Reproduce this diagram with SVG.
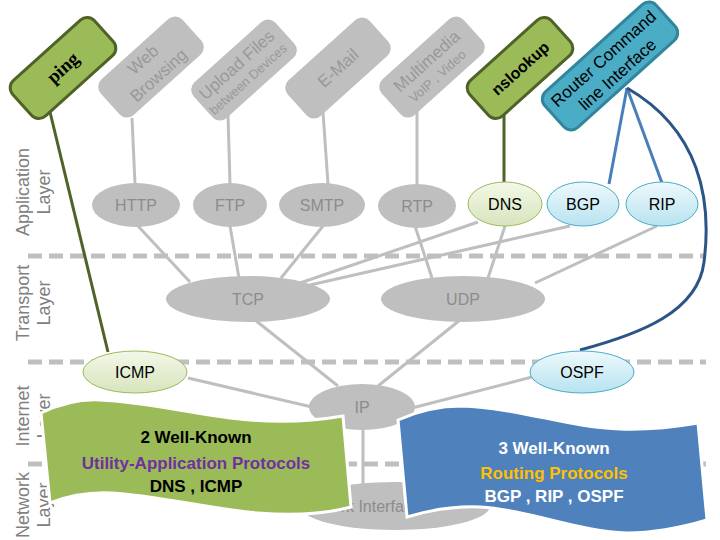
<svg xmlns="http://www.w3.org/2000/svg" width="720" height="540" viewBox="0 0 720 540">
<style>
.lbl{font-family:"Liberation Sans",Arial,sans-serif;font-size:18px;fill:#808080;text-anchor:middle}
.gbox{fill:#bfbfbf}
.grbox{fill:#9bbb59;stroke:#4f6228;stroke-width:3}
.blbox{fill:#4bacc6;stroke:#31859c;stroke-width:3}
.gt{font-family:"Liberation Sans",Arial,sans-serif;font-size:17px;fill:#999;text-anchor:middle}
.gs{font-family:"Liberation Sans",Arial,sans-serif;font-size:13px;fill:#999;text-anchor:middle}
.bt{font-family:"Liberation Sans",Arial,sans-serif;font-size:17px;fill:#000;text-anchor:middle}
.pe{fill:#bfbfbf}
.pt{font-family:"Liberation Sans",Arial,sans-serif;font-size:16px;fill:#8c8c8c;text-anchor:middle}
.kt{font-family:"Liberation Sans",Arial,sans-serif;font-size:16px;fill:#000;text-anchor:middle}
.dash{stroke:#bfbfbf;stroke-width:5;stroke-dasharray:14 7;fill:none}
.gl{stroke:#bfbfbf;stroke-width:3;fill:none}
.ol{stroke:#4f6228;stroke-width:3;fill:none}
.bl{stroke:#4a7ebb;stroke-width:3;fill:none}
.ban{font-family:"Liberation Sans",Arial,sans-serif;font-size:17px;font-weight:bold;text-anchor:middle}
</style>
<defs>
<linearGradient id="gGreen" x1="0" y1="0" x2="0" y2="1"><stop offset="0" stop-color="#f3f8e8"/><stop offset="1" stop-color="#d7e4bd"/></linearGradient>
<linearGradient id="gBlue" x1="0" y1="0" x2="0" y2="1"><stop offset="0" stop-color="#eef9fc"/><stop offset="1" stop-color="#b7e3f0"/></linearGradient>
</defs>
<rect width="720" height="540" fill="#fff"/>

<g id="layer-labels">
<text class="lbl" transform="translate(29,192) rotate(-90)">Application</text>
<text class="lbl" transform="translate(50,192) rotate(-90)">Layer</text>
<text class="lbl" transform="translate(29,303) rotate(-90)">Transport</text>
<text class="lbl" transform="translate(50,303) rotate(-90)">Layer</text>
<text class="lbl" transform="translate(29,416) rotate(-90)">Internet</text>
<text class="lbl" transform="translate(50,416) rotate(-90)">Layer</text>
<text class="lbl" transform="translate(29,505) rotate(-90)">Network</text>
<text class="lbl" transform="translate(50,505) rotate(-90)">Layer</text>
</g>

<g id="layer-lines">
<line class="dash" x1="28" y1="256" x2="706" y2="256"/>
<line class="dash" x1="28" y1="362" x2="706" y2="362"/>
<line class="dash" x1="28" y1="464" x2="706" y2="464"/>
</g>

<g id="connectors">
<line class="gl" x1="132" y1="118" x2="135" y2="184"/>
<line class="gl" x1="228" y1="115" x2="230" y2="184"/>
<line class="gl" x1="323" y1="112" x2="328" y2="184"/>
<line class="gl" x1="417" y1="110" x2="417" y2="185"/>
<line class="gl" x1="138" y1="226" x2="190" y2="282"/>
<line class="gl" x1="230" y1="226" x2="239" y2="278"/>
<line class="gl" x1="323" y1="226" x2="281" y2="278"/>
<line class="gl" x1="478" y1="222" x2="300" y2="283"/>
<line class="gl" x1="570" y1="226" x2="310" y2="285"/>
<line class="gl" x1="415" y1="226" x2="432" y2="278"/>
<line class="gl" x1="505" y1="226" x2="488" y2="278"/>
<line class="gl" x1="657" y1="226" x2="535" y2="283"/>
<line class="gl" x1="255" y1="320" x2="338" y2="386"/>
<line class="gl" x1="460" y1="320" x2="378" y2="386"/>
<line class="gl" x1="188" y1="378" x2="312" y2="407"/>
<line class="gl" x1="532" y1="377" x2="412" y2="408"/>
<line class="gl" x1="363" y1="428" x2="363" y2="484"/>
<line class="ol" x1="50" y1="112" x2="108" y2="352"/>
<line class="ol" x1="504" y1="112" x2="504" y2="183"/>
<line class="bl" x1="627" y1="88" x2="609" y2="184"/>
<line class="bl" x1="627" y1="88" x2="662" y2="183"/>
<path d="M627,88 C700,130 712,200 704,262 C698,312 640,334 580,350" fill="none" stroke="#2c5587" stroke-width="3"/>
</g>

<g id="ping" transform="translate(63,68) rotate(-42)">
<rect class="grbox" x="-55" y="-24" width="110" height="48" rx="10"/>
<text x="0" y="6" font-family="'Liberation Serif',serif" font-size="19" font-weight="bold" text-anchor="middle" fill="#000">ping</text>
</g>
<g id="web" transform="translate(151,67) rotate(-42)">
<rect class="gbox" x="-55" y="-24" width="110" height="48" rx="10"/>
<text class="gt" x="-1" y="-5">Web</text>
<text class="gt" x="0" y="17">Browsing</text>
</g>
<g id="upload" transform="translate(244,70) rotate(-42)">
<rect class="gbox" x="-55" y="-24" width="110" height="48" rx="10"/>
<text class="gt" x="-2" y="-3">Upload Files</text>
<text class="gs" x="-3" y="14">between Devices</text>
</g>
<g id="email" transform="translate(338,68) rotate(-42)">
<rect class="gbox" x="-55" y="-24" width="110" height="48" rx="10"/>
<text class="gt" x="0" y="6">E-Mail</text>
</g>
<g id="multimedia" transform="translate(432,67) rotate(-42)">
<rect class="gbox" x="-55" y="-24" width="110" height="48" rx="10"/>
<text class="gt" x="0" y="-2">Multimedia</text>
<text class="gs" x="-2" y="15">VoIP , Video</text>
</g>
<g id="nslookup" transform="translate(520,68) rotate(-42)">
<rect class="grbox" x="-55" y="-24" width="110" height="48" rx="10"/>
<text x="0" y="6" font-family="'Liberation Sans',Arial,sans-serif" font-size="16" font-weight="bold" text-anchor="middle" fill="#000">nslookup</text>
</g>
<g id="router" transform="translate(610,66) rotate(-42)">
<rect class="blbox" x="-75" y="-24" width="150" height="48" rx="10"/>
<text class="bt" x="0" y="-4">Router Command</text>
<text class="bt" x="0" y="17">line Interface</text>
</g>

<g id="http"><ellipse class="pe" cx="136" cy="205" rx="44" ry="22"/><text class="pt" x="136" y="211">HTTP</text></g>
<g id="ftp"><ellipse class="pe" cx="230" cy="205" rx="37" ry="22"/><text class="pt" x="230" y="211">FTP</text></g>
<g id="smtp"><ellipse class="pe" cx="322" cy="205" rx="43" ry="22"/><text class="pt" x="322" y="211">SMTP</text></g>
<g id="rtp"><ellipse class="pe" cx="417" cy="206" rx="39" ry="22"/><text class="pt" x="417" y="212">RTP</text></g>
<g id="dns"><ellipse cx="505" cy="204" rx="37" ry="22" fill="url(#gGreen)" stroke="#9bbb59" stroke-width="1"/><text class="kt" x="505" y="210">DNS</text></g>
<g id="bgp"><ellipse cx="583" cy="204" rx="36" ry="22" fill="url(#gBlue)" stroke="#4bacc6" stroke-width="1"/><text class="kt" x="583" y="210">BGP</text></g>
<g id="rip"><ellipse cx="662" cy="204" rx="36" ry="22" fill="url(#gBlue)" stroke="#4bacc6" stroke-width="1"/><text class="kt" x="662" y="210">RIP</text></g>
<g id="tcp"><ellipse class="pe" cx="248" cy="299" rx="82" ry="23"/><text class="pt" x="248" y="305">TCP</text></g>
<g id="udp"><ellipse class="pe" cx="463" cy="299" rx="82" ry="23"/><text class="pt" x="463" y="305">UDP</text></g>
<g id="icmp"><ellipse cx="135" cy="372" rx="52" ry="21" fill="url(#gGreen)" stroke="#9bbb59" stroke-width="1"/><text class="kt" x="135" y="378">ICMP</text></g>
<g id="ospf"><ellipse cx="582" cy="372" rx="52" ry="21" fill="url(#gBlue)" stroke="#4bacc6" stroke-width="1"/><text class="kt" x="582" y="378">OSPF</text></g>
<g id="ip"><ellipse class="pe" cx="362" cy="407" rx="53" ry="23"/><text class="pt" x="362" y="413">IP</text></g>
<g id="netif"><ellipse class="pe" cx="395" cy="506" rx="95" ry="24"/><text class="pt" x="358" y="512">Network Interface</text></g>

<g id="banner-utility">
<path d="M41,413 C62,403 80,399 100,400 C150,402 200,416 250,420 C290,423 320,420 343,416 L351,507 C325,514 295,516 258,513 C210,509 160,496 112,493 C90,492 70,495 50,503 Z" fill="#9bbb59" stroke="#fff" stroke-width="3"/>
<text class="ban" x="196" y="443" fill="#000">2 Well-Known</text>
<text class="ban" x="196" y="469" fill="#7030a0">Utility-Application Protocols</text>
<text class="ban" x="196" y="492" fill="#000">DNS , ICMP</text>
</g>
<g id="banner-routing">
<path d="M398,420 C420,410 440,406 462,406 C520,408 570,428 620,429 C650,430 675,427 698,423 L707,520 C680,528 655,533 627,533 C580,532 530,510 480,507 C455,506 430,510 407,517 Z" fill="#4f81bd" stroke="#fff" stroke-width="3"/>
<text class="ban" x="554" y="454" fill="#fff">3 Well-Known</text>
<text class="ban" x="554" y="479" fill="#ffc000">Routing Protocols</text>
<text class="ban" x="554" y="502" fill="#fff">BGP , RIP , OSPF</text>
</g>
</svg>
